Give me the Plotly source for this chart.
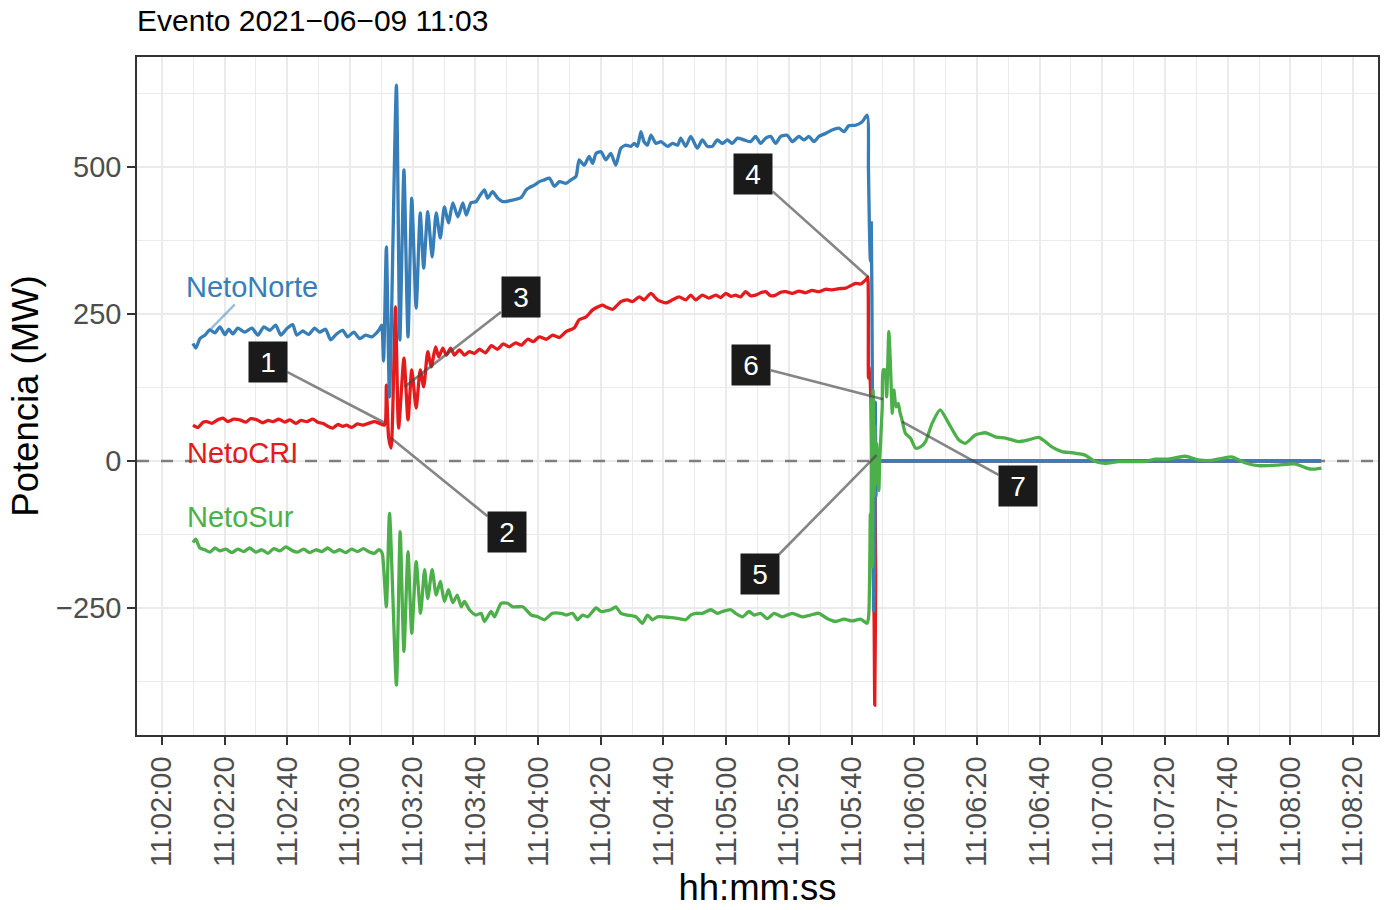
import plotly.graph_objects as go
import pandas as pd

BASE = pd.Timestamp("2021-06-09 11:02:00")

# ---------------- data (seconds after 11:02:00, MW) ----------------
norte_t = [9.9, 10.8, 12.1, 13.7, 15.3, 16.9, 18.5, 20.1, 21.3, 22.6, 24.2, 26.4, 28.7, 30.6, 32.5,
           34.4, 36.3, 37.9, 39.8, 41.7, 43.0, 44.9, 46.8, 48.7, 50.3, 52.2, 53.8, 55.7, 57.7, 59.2,
           61.2, 63.1, 65.0, 66.9, 68.5, 69.4, 70.1,
           70.7, 71.6, 72.6, 74.8, 75.9, 77.2, 78.5, 79.7, 81.1, 82.4, 83.5, 84.8, 86.2, 87.5, 88.8,
           90.1, 91.4, 92.8, 94.4, 96.0, 97.1, 98.6, 100.2, 101.3, 102.9, 103.9, 105.5, 107.1, 108.7, 111.4,
           114.6, 116.2, 117.2, 118.8, 120.4, 122.0, 123.6, 125.2, 126.8, 128.9, 130.5, 132.1, 133.1, 134.7, 136.3,
           137.4, 138.5, 140.1, 141.6, 143.2, 144.8, 146.4, 148.0, 149.6, 150.7, 151.7, 152.8, 153.8, 154.9, 156.0,
           157.6, 159.2, 161.3, 162.9, 164.5, 165.5, 167.1, 168.7, 170.8, 172.4, 174.0, 175.6, 177.2, 178.8, 180.4,
           182.0, 183.6, 185.7, 187.8, 189.4, 191.0, 192.6, 194.2, 195.8, 197.4, 199.5, 201.1, 203.2, 204.8, 206.4,
           208.0, 209.6, 211.7, 213.8, 216.0, 217.6, 219.1, 221.3, 223.4, 225.0,
           225.4, 225.7, 226.0, 226.3, 226.6, 226.9, 227.1, 227.4, 227.6, 227.8, 228.1,
           228.5, 229.0, 230.0, 232.0, 236.0, 245.0, 270.0, 320.0, 369.8]
norte_v = [200, 192, 208, 214, 223, 218, 228, 215, 224, 216, 226, 219, 226, 214, 228,
           222, 231, 214, 225, 232, 214, 221, 215, 226, 219, 224, 206, 216, 222, 211,
           219, 208, 214, 211, 218, 224, 231,
           170, 364, 109, 639, 206, 495, 211, 447, 260, 422, 328, 424, 347, 422, 379,
           432, 405, 439, 415, 439, 418, 439, 441, 450, 461, 447, 458, 447, 441, 443,
           448, 461, 465, 469, 475, 478, 481, 467, 475, 472, 478, 484, 512, 503, 518,
           506, 523, 526, 512, 523, 503, 532, 537, 535, 540, 535, 560, 543, 537, 554,
           540, 543, 535, 540, 537, 549, 535, 552, 532, 546, 535, 535, 546, 540, 546,
           540, 549, 546, 543, 552, 540, 549, 552, 540, 552, 554, 543, 552, 546, 552,
           543, 552, 557, 563, 566, 560, 570, 571, 577, 588,
           495, 398, 340, 405, 180, -120, -255, -150, 100, -60, 0,
           0, 0, 0, 0, 0, 0, 0, 0, 0]

cri_t = [9.9, 11.5, 13.1, 14.3, 15.9, 17.8, 19.4, 21.0, 22.9, 24.8, 26.8, 28.3, 30.3, 32.2, 33.8,
         35.4, 37.3, 39.2, 40.8, 42.7, 44.3, 46.2, 48.1, 49.7, 51.3, 52.9, 54.5, 56.1, 57.7, 58.9,
         60.5, 62.4, 64.0, 65.9, 67.8, 69.4, 71.0,
         71.6, 72.3, 73.1, 74.5, 75.5, 77.2, 78.5, 79.7, 81.1, 82.4, 83.5, 84.8, 85.9, 87.3, 88.3,
         89.6, 90.7, 92.1, 93.3, 94.9, 96.5, 98.1, 99.7, 101.3, 103.2, 105.1, 107.0, 108.9, 110.8, 112.8,
         114.7, 116.7, 118.5, 120.4, 122.6, 124.6, 126.8, 128.9, 131.5, 133.1, 135.3, 137.4, 139.0, 140.6, 141.6,
         143.8, 146.4, 148.5, 150.1, 152.3, 153.8, 156.0, 158.1, 160.8, 162.9, 165.0, 167.1, 168.7, 170.3, 172.4,
         174.5, 176.7, 178.3, 179.9, 181.5, 183.0, 184.6, 186.2, 187.8, 189.4, 191.0, 192.6, 194.2, 195.8, 197.4,
         199.0, 201.1, 203.2, 205.3, 207.4, 209.6, 211.7, 213.8, 216.0, 218.1, 219.7, 221.3, 222.9, 223.9, 225.0,
         225.2,
         225.4, 225.7, 226.2, 226.8, 227.2, 227.4, 227.7, 227.9,
         228.3, 228.8, 229.5, 231.0, 234.0, 240.0, 255.0, 290.0, 330.0, 369.8]
cri_v = [61, 57, 66, 67, 64, 70, 73, 67, 71, 70, 66, 72, 70, 65, 69,
         67, 71, 66, 70, 64, 69, 67, 71, 66, 64, 59, 56, 62, 59, 61,
         57, 63, 61, 64, 67, 64, 61,
         129, 41, 22, 262, 56, 175, 70, 155, 90, 155, 126, 186, 160, 194, 177,
         192, 180, 192, 180, 189, 180, 186, 183, 190, 184, 196, 190, 199, 194, 201,
         197, 207, 203, 211, 207, 214, 210, 220, 226, 240, 245, 257, 262, 265, 262,
         258, 271, 274, 271, 279, 274, 285, 274, 269, 274, 279, 274, 282, 274, 282,
         277, 282, 278, 285, 280, 282, 279, 288, 281, 282, 286, 288, 281, 282, 287,
         288, 285, 289, 286, 290, 288, 292, 291, 293, 294, 298, 302, 301, 305, 311,
         313,
         141, 160, 100, -150, -265, -415, -200, 0,
         0, 0, 0, 0, 0, 0, 0, 0, 0, 0]

sur_t = [9.9, 10.8, 12.1, 13.7, 15.3, 16.9, 18.5, 20.4, 22.3, 24.2, 26.1, 28.0, 29.9, 31.9, 33.8,
         35.7, 37.6, 39.5, 41.4, 43.3, 45.2, 47.1, 49.1, 51.0, 52.9, 54.8, 56.7, 58.6, 60.5, 62.4,
         64.3, 66.3, 67.8, 69.1, 70.0, 70.4,
         71.6, 72.6, 74.8, 76.0, 77.2, 78.5, 79.7, 81.1, 82.5, 83.8, 84.8, 86.2, 87.5, 88.8, 90.1,
         91.4, 92.8, 94.2, 95.5, 96.5, 98.1, 100.2, 101.8, 102.9, 105.0, 106.1, 108.2, 110.3, 111.9, 115.1,
         117.8, 119.9, 122.0, 124.6, 127.3, 128.9, 131.0, 132.6, 134.2, 135.8, 138.5, 140.1, 143.2, 144.8, 146.4,
         148.5, 151.2, 153.3, 154.9, 156.5, 158.1, 161.8, 165.0, 167.1, 168.7, 170.3, 172.4, 175.1, 177.2, 178.8,
         181.5, 183.0, 185.2, 187.3, 188.9, 191.0, 193.1, 195.3, 197.9, 201.1, 204.3, 206.9, 209.6, 212.2, 214.9,
         217.6, 220.2, 222.9, 225.0,
         225.5, 226.0, 226.2, 226.4, 226.7, 226.9, 227.2, 227.4, 227.7, 228.0, 228.7, 229.0, 229.8, 230.1, 230.6,
         231.2, 231.9, 232.4, 233.0, 233.5, 234.2, 234.9, 235.4, 236.1, 237.2, 238.8, 240.4, 242.0, 243.6, 245.7,
         248.3, 251.0, 254.2, 256.3, 259.5, 262.7, 265.9, 269.1, 271.2, 273.3, 276.5, 279.7, 281.8, 283.9, 287.1,
         290.3, 294.5, 297.7, 300.9, 305.1, 309.4, 313.6, 316.8, 321.1, 326.4, 330.6, 334.9, 341.2, 345.5, 349.7,
         356.1, 361.4, 364.6, 366.7, 369.9]
sur_v = [-139, -133, -148, -151, -155, -148, -153, -150, -156, -150, -154, -148, -155, -151, -157,
         -149, -153, -146, -152, -155, -150, -156, -151, -154, -148, -155, -151, -156, -150, -154,
         -149, -155, -157, -151, -154, -160,
         -248, -89, -381, -120, -324, -154, -293, -171, -259, -185, -234, -185, -228, -205, -239,
         -219, -241, -228, -248, -239, -253, -262, -259, -273, -256, -265, -242, -242, -248, -248,
         -262, -265, -270, -259, -259, -262, -259, -270, -262, -265, -250, -256, -253, -248, -259,
         -262, -265, -276, -262, -270, -265, -266, -268, -270, -262, -259, -259, -253, -259, -256,
         -253, -259, -265, -256, -262, -259, -268, -259, -265, -259, -265, -262, -259, -268, -273,
         -269, -272, -269, -276,
         -262, -90, -160, 110, -180, 120, -60, 60, -40, 30, -50, 2, 92, 155, 155,
         109, 220, 166, 81, 121, 92, 98, 84, 70, 47, 39, 22, 24, 33, 64,
         87, 64, 36, 30, 44, 48, 41, 39, 36, 33, 36, 40, 33, 24, 16,
         14, 10, -1, -4, -1, -1, -1, 3, 3, 8, 2, 1, 7, -3, -8,
         -7, -5, -11, -14, -12]

event_labels = ["1", "2", "3", "4", "5", "6", "7"]
event_t = [71.0, 73.1, 77.4, 225.3, 228.0, 230.1, 236.1]
event_v = [65, 39, 126, 313, 10, 105, 67]

series_names = ["NetoNorte", "NetoCRI", "NetoSur"]
y_ticks = [-250, 0, 250, 500]
y_range = [-466, 687]
x_range_sec = [-7.96, 387.96]
title_text = "Evento 2021\u221206\u221209 11:03"


def to_time(secs):
    return [BASE + pd.Timedelta(seconds=s) for s in secs]


FONT = "Liberation Sans, Arial, Helvetica, sans-serif"
BLUE, RED, GREEN = "#377EB8", "#E41A1C", "#4DAF4A"
x_range = to_time(x_range_sec)

fig = go.Figure()
# zero reference line (drawn first so the series sit above it)
fig.add_trace(go.Scatter(x=x_range, y=[0, 0], mode="lines", showlegend=False, hoverinfo="skip",
                         line=dict(color="#7F7F7F", width=2.6, dash="12px,12px")))
for t, v, c, n in [(cri_t, cri_v, RED, series_names[1]),
                   (norte_t, norte_v, BLUE, series_names[0]),
                   (sur_t, sur_v, GREEN, series_names[2])]:
    fig.add_trace(go.Scatter(x=to_time(t), y=v, mode="lines", name=n,
                             line=dict(color=c, width=3.3, shape="spline", smoothing=0.6),
                             showlegend=False, hoverinfo="skip"))

# numbered event labels
offsets = [(-117, -61), (116, 94), (116, -90), (-115, -103), (-117, 119), (-132, -34), (116, 64)]
for lab, t, v, (dx, dy) in zip(event_labels, event_t, event_v, offsets):
    fig.add_annotation(x=BASE + pd.Timedelta(seconds=t), y=v, text=lab,
                       showarrow=True, arrowhead=0, arrowwidth=2.6,
                       arrowcolor="rgba(70,70,70,0.65)", ax=dx, ay=dy,
                       standoff=0, startstandoff=0,
                       bgcolor="#1A1A1A", borderpad=4, width=30, height=32,
                       font=dict(family=FONT, size=28, color="white"))

# series name labels
fig.add_annotation(x=BASE + pd.Timedelta(seconds=15.3), y=223, text=series_names[0],
                   showarrow=True, arrowhead=0, arrowwidth=2.4,
                   arrowcolor="rgba(55,126,184,0.5)", ax=42, ay=-43, standoff=0,
                   font=dict(family=FONT, size=29, color=BLUE))
fig.add_annotation(x=BASE + pd.Timedelta(seconds=7.3), y=13.6, text=series_names[1],
                   showarrow=False, xanchor="left", yanchor="middle",
                   font=dict(family=FONT, size=29, color=RED))
fig.add_annotation(x=BASE + pd.Timedelta(seconds=7.3), y=-95, text=series_names[2],
                   showarrow=False, xanchor="left", yanchor="middle",
                   font=dict(family=FONT, size=29, color=GREEN))

fig.update_layout(
    width=1392, height=910, autosize=False,
    margin=dict(l=137, r=12, t=57, b=175),
    paper_bgcolor="white", plot_bgcolor="white",
    font=dict(family=FONT, color="black"),
    title=dict(text=title_text, x=0, xref="paper", xanchor="left",
               y=1 - 20 / 910, yref="container", yanchor="middle",
               font=dict(family=FONT, size=30, color="black")),
    xaxis=dict(type="date", range=x_range,
               tick0=BASE, dtick=20000, tickformat="%H:%M:%S", tickangle=-90,
               ticks="outside", ticklen=8, tickwidth=1.6, tickcolor="#333333",
               tickfont=dict(family=FONT, size=29, color="#4D4D4D"),
               showgrid=True, gridcolor="#EBEBEB", gridwidth=1.8,
               minor=dict(tick0=BASE, dtick=10000, showgrid=True, gridcolor="#EBEBEB",
                          gridwidth=0.9, ticks=""),
               showline=True, mirror=True, linecolor="#333333", linewidth=1.6,
               zeroline=False,
               title=dict(text="hh:mm:ss", standoff=4,
                          font=dict(family=FONT, size=36.5, color="black"))),
    yaxis=dict(range=y_range, tickmode="array", tickvals=y_ticks,
               ticktext=[("\u2212" + str(-v)) if v < 0 else str(v) for v in y_ticks],
               ticks="outside", ticklen=8, tickwidth=1.6, tickcolor="#333333",
               tickfont=dict(family=FONT, size=29, color="#4D4D4D"),
               showgrid=True, gridcolor="#EBEBEB", gridwidth=1.8,
               minor=dict(tick0=0, dtick=125, showgrid=True, gridcolor="#EBEBEB",
                          gridwidth=0.9, ticks=""),
               showline=True, mirror=True, linecolor="#333333", linewidth=1.6,
               zeroline=False,
               title=dict(text="Potencia (MW)", standoff=6,
                          font=dict(family=FONT, size=36.5, color="black"))),
)

fig.write_html("out.html")
